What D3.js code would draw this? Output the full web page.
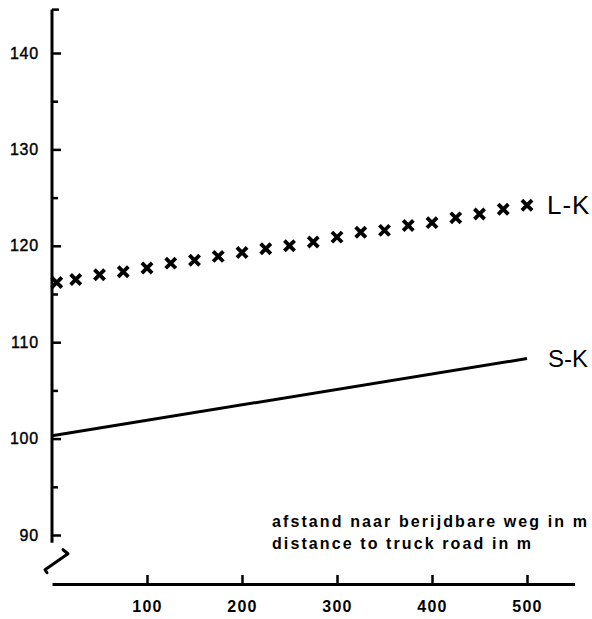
<!DOCTYPE html>
<html>
<head>
<meta charset="utf-8">
<script src="https://cdn.jsdelivr.net/npm/d3@7"></script>
<style>
  html, body { margin: 0; padding: 0; background: #fff; }
  svg { display: block; }
  text { font-family: "Liberation Sans", Arial, sans-serif; fill: #000; }
</style>
</head>
<body>
<svg id="chart" width="592" height="619"></svg>
<script>
// distance to truck road (m) and level (dB)
const lkDistance = [5, 25, 50, 75, 100, 125, 150, 175, 200, 225, 250, 275, 300, 325, 350, 375, 400, 425, 450, 475, 500];
const lkValues = [116.2, 116.5, 117.0, 117.3, 117.7, 118.2, 118.5, 118.9, 119.3, 119.7, 120.0, 120.4, 120.9, 121.4, 121.6, 122.1, 122.4, 122.9, 123.3, 123.8, 124.2];
const skDistance = [0, 500];
const skValues = [100.3, 108.3];
const xTicks = [100, 200, 300, 400, 500];
const yTicks = [90, 100, 110, 120, 130, 140];
const yMinor = [95, 105, 115, 125, 135];
const seriesLabels = ['L-K', 'S-K'];
const xTitle = ['afstand naar berijdbare weg in m', 'distance to truck road in m'];

const svg = d3.select('#chart');

const x = d3.scaleLinear().domain([0, 550]).range([52, 574.5]);
const y = d3.scaleLinear().domain([90, 140]).range([535, 53]);
const yAxisEnd = [89.2, 144.5];
const xAxisY = 584;

// y axis
const yAxis = svg.append('g').attr('transform', `translate(${x(0)},0)`);
yAxis.append('line')
  .attr('y1', y(yAxisEnd[0])).attr('y2', y(yAxisEnd[1]))
  .attr('stroke', '#000').attr('stroke-width', 3);
yAxis.append('path')
  .attr('d', `M0,${y(yAxisEnd[1])}H7`)
  .attr('stroke', '#000').attr('stroke-width', 2.5).attr('fill', 'none');

const yMajor = svg.append('g')
  .attr('transform', `translate(${x(0)},0)`)
  .call(d3.axisLeft(y).tickValues(yTicks).tickSizeInner(-9).tickSizeOuter(0).tickPadding(13));
yMajor.select('.domain').remove();
yMajor.selectAll('.tick line').attr('stroke-width', 2.5);
yMajor.selectAll('.tick text')
  .style('font-size', '16px').style('letter-spacing', '0.8px')
  .style('stroke', '#000').style('stroke-width', '0.4px')
  .attr('font-family', null);

const yMin = svg.append('g')
  .attr('transform', `translate(${x(0)},0)`)
  .call(d3.axisLeft(y).tickValues(yMinor).tickSizeInner(-6).tickSizeOuter(0).tickFormat(''));
yMin.select('.domain').remove();
yMin.selectAll('.tick line').attr('stroke-width', 2.5);

// x axis
const xAxis = svg.append('g')
  .attr('transform', `translate(0,${xAxisY})`)
  .call(d3.axisBottom(x).tickValues(xTicks).tickSizeInner(-9).tickSizeOuter(0).tickPadding(17));
xAxis.select('.domain').attr('stroke-width', 3);
xAxis.selectAll('.tick line').attr('stroke-width', 2.5);
xAxis.selectAll('.tick text')
  .style('font-size', '16px').style('font-weight', 'bold').style('letter-spacing', '1.2px')
  .attr('font-family', null);

// axis break mark
const bx = x(0), by = y(yAxisEnd[0]);
svg.append('path')
  .attr('d', `M${bx + 11},${by + 7} L${bx + 16},${by + 11} L${bx - 7},${by + 27} L${bx - 5},${by + 30}`)
  .attr('fill', 'none').attr('stroke', '#000').attr('stroke-width', 3)
  .attr('stroke-linejoin', 'round').attr('stroke-linecap', 'round');

// S-K line
svg.append('path')
  .datum(d3.zip(skDistance, skValues))
  .attr('d', d3.line().x(d => x(d[0])).y(d => y(d[1])))
  .attr('fill', 'none').attr('stroke', '#000').attr('stroke-width', 3);

// L-K crosses
const cross = d3.symbol().type(d3.symbolX).size(70);
svg.append('g').selectAll('path')
  .data(d3.zip(lkDistance, lkValues))
  .join('path')
  .attr('transform', d => `translate(${x(d[0])},${y(d[1])})`)
  .attr('d', cross)
  .attr('fill', 'none').attr('stroke', '#000').attr('stroke-width', 3.8);

// series labels
svg.append('text')
  .attr('x', x(lkDistance[lkDistance.length - 1]) + 20).attr('y', y(lkValues[lkValues.length - 1]) + 9)
  .style('font-size', '26px').style('letter-spacing', '1px').text(seriesLabels[0]);
svg.append('text')
  .attr('x', x(skDistance[1]) + 21).attr('y', y(skValues[1]) + 8)
  .style('font-size', '24px').text(seriesLabels[1]);

// axis title
svg.append('g').selectAll('text')
  .data(xTitle)
  .join('text')
  .attr('x', 272)
  .attr('y', (d, i) => 527 + i * 22)
  .style('font-size', '16px').style('font-weight', 'bold').style('letter-spacing', '2.1px')
  .text(d => d);
</script>
</body>
</html>
